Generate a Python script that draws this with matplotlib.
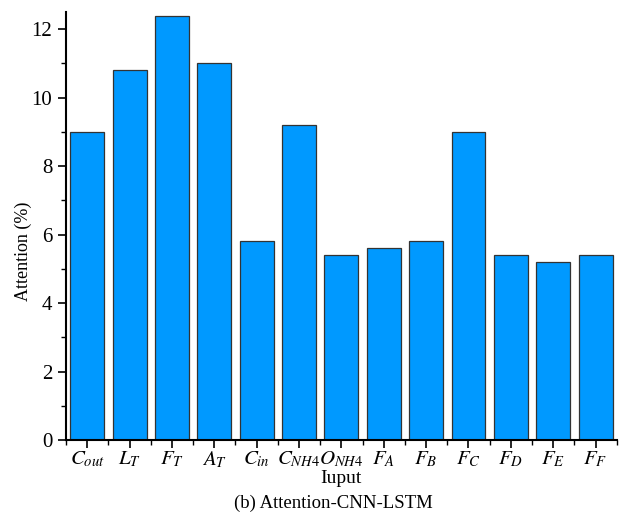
import matplotlib
matplotlib.use('Agg')
import matplotlib.pyplot as plt
from matplotlib.ticker import MultipleLocator, FixedLocator

plt.rcParams['font.family'] = 'Liberation Serif'
plt.rcParams['mathtext.fontset'] = 'stix'

labels = [r'$C_{out}$', r'$L_T$', r'$F_T$', r'$A_T$', r'$C_{in}$', r'$C_{\mathit{NH4}}$',
          r'$O_{\mathit{NH4}}$', r'$F_A$', r'$F_B$', r'$F_C$', r'$F_D$', r'$F_E$', r'$F_F$']
attention = [9.0, 10.8, 12.4, 11.0, 5.8, 9.2, 5.4, 5.6, 5.8, 9.0, 5.4, 5.2, 5.4]

fig = plt.figure(figsize=(6.23, 5.18), dpi=100)
ax = fig.add_axes([0.106, 0.1506, 0.884, 0.826])

x = range(len(attention))
ax.bar(x, attention, width=0.8, color='#0099FF', edgecolor='#333333', linewidth=0.9)

ax.set_xlim(-0.5, len(attention) - 0.5)
ax.set_ylim(0, 12.5)
ax.set_xticks(list(x))
ax.set_xticklabels(labels, fontsize=15)
ax.xaxis.set_minor_locator(FixedLocator([i - 0.5 for i in range(len(attention) + 1)]))
ax.yaxis.set_major_locator(MultipleLocator(2))
ax.yaxis.set_minor_locator(MultipleLocator(1))
ax.tick_params(axis='both', which='major', direction='out', length=6, width=1.2)
ax.tick_params(axis='y', which='major', labelsize=15, pad=4)
ax.tick_params(axis='x', which='major', pad=1)
ax.tick_params(axis='both', which='minor', direction='out', length=3.5, width=1.0)

for s in ['top', 'right']:
    ax.spines[s].set_visible(False)
for s in ['left', 'bottom']:
    ax.spines[s].set_linewidth(1.5)

ax.set_ylabel('Attention (%)', fontsize=13)
ax.yaxis.set_label_coords(-0.062, 0.44)
ax.set_xlabel('Iuput', fontsize=14, labelpad=0)

fig.text(0.535, 0.028, '(b) Attention-CNN-LSTM', ha='center', va='center', fontsize=13.5)

fig.savefig('out.png', dpi=100)
